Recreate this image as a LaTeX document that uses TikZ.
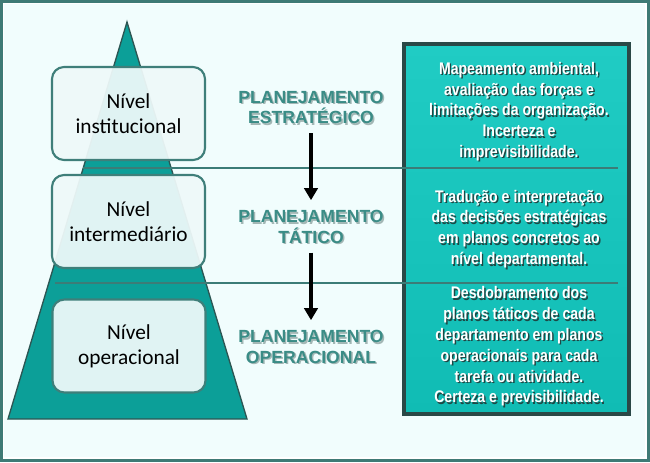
\documentclass[tikz,border=0pt]{standalone}
\usepackage{fontspec}
\setmainfont{Carlito}
\newfontfamily\headfont{Liberation Sans}
\newfontfamily\narrowfont[FakeStretch=0.84]{Liberation Sans}
\usetikzlibrary{arrows.meta,positioning}
\definecolor{frTeal}{HTML}{3E7A75}
\definecolor{frPale}{HTML}{F1FDFD}
\definecolor{pyrTeal}{HTML}{17CBC3}
\definecolor{pyrDark}{HTML}{0C9F98}
\definecolor{pyrEdge}{HTML}{2C5653}
\definecolor{lvFill}{HTML}{EEF9F9}
\definecolor{lvEdge}{HTML}{3F7F7A}
\definecolor{lblTeal}{HTML}{3A8C86}
\definecolor{lblShade}{HTML}{A3B7B5}
\definecolor{ruleTeal}{HTML}{3C7C77}
\definecolor{dsTop}{HTML}{20CCC4}
\definecolor{dsBottom}{HTML}{10BCB4}
\definecolor{dsEdge}{HTML}{2A4846}
\definecolor{dsShade}{HTML}{1E4744}
\tikzset{
  lv box/.style={draw=lvEdge, line width=1.6pt, fill=lvFill, fill opacity=.94,
    text opacity=1, rounded corners=9pt, minimum width=114.75pt,
    minimum height=69.75pt, align=center, text=black,
    font=\fontsize{16}{19}\selectfont},
  plan label/.style={font=\headfont\bfseries\fontsize{13.2}{15.5}\selectfont,
    align=center, inner sep=0pt},
  desc text/.style={font=\narrowfont\bfseries\fontsize{12.6}{15.6}\selectfont,
    align=center, inner sep=0pt},
  level rule/.style={draw=ruleTeal, line width=1.5pt},
  flow arrow/.style={draw=black, line width=3pt,
    shorten <=6.5pt, shorten >=7.5pt,
    -{Triangle[length=9pt,width=10pt]}}
}
% text with a soft drop shadow: style, shadow colour, text colour, name, position, text
\newcommand\shadedtext[6]{%
  \node[#1, text=#2, xshift=1.1pt, yshift=-1.1pt] at (#5) {#6};
  \node[#1, text=#3] (#4) at (#5) {#6};}

\begin{document}
\begin{tikzpicture}[x=0.75pt,y=-0.75pt]
  % frame
  \fill[frTeal] (0,0) rectangle (650,462);
  \fill[white] (3,3) rectangle (647,459);
  \fill[frPale] (4,4) rectangle (645,457);
  \useasboundingbox (0,0) rectangle (650,462);

  % pyramid
  \coordinate (apex) at (127,22);
  \coordinate (baseL) at (8,419);
  \coordinate (baseR) at (247,419);
  \draw[pyrEdge, line width=1pt, left color=pyrDark, middle color=pyrTeal,
    right color=pyrDark] (apex) -- (baseR) -- (baseL) -- cycle;

  % description column
  \draw[dsEdge, line width=2.5pt, top color=dsTop, bottom color=dsBottom]
    (404,44) rectangle (629,414);

  % level rules
  \draw[level rule] (83,168) -- (618,168);
  \draw[level rule] (55,283) -- (618,283);

  % levels
  \node[lv box] (inst) at (128.5,113.5) {Nível\\institucional};
  \node[lv box] (inter) at (128.5,221.5) {Nível\\intermediário};
  \node[lv box] (oper) at (129,346) {Nível\\operacional};

  % planning labels
  \shadedtext{plan label}{lblShade}{lblTeal}{strat}{311,107.5}{PLANEJAMENTO\\ESTRATÉGICO}
  \shadedtext{plan label}{lblShade}{lblTeal}{tact}{311,227}{PLANEJAMENTO\\TÁTICO}
  \shadedtext{plan label}{lblShade}{lblTeal}{operp}{311,347}{PLANEJAMENTO\\OPERACIONAL}
  \draw[flow arrow] (strat) -- (tact);
  \draw[flow arrow] (tact) -- (operp);

  % descriptions
  \shadedtext{desc text}{dsShade}{white}{desc1}{519,111.5}{Mapeamento ambiental,\\avaliação das forças e\\limitações da organização.\\Incerteza e\\imprevisibilidade.}
  \shadedtext{desc text}{dsShade}{white}{desc2}{519,229}{Tradução e interpretação\\das decisões estratégicas\\em planos concretos ao\\nível departamental.}
  \shadedtext{desc text}{dsShade}{white}{desc3}{519,346.5}{Desdobramento dos\\planos táticos de cada\\departamento em planos\\operacionais para cada\\tarefa ou atividade.\\Certeza e previsibilidade.}
\end{tikzpicture}
\end{document}
